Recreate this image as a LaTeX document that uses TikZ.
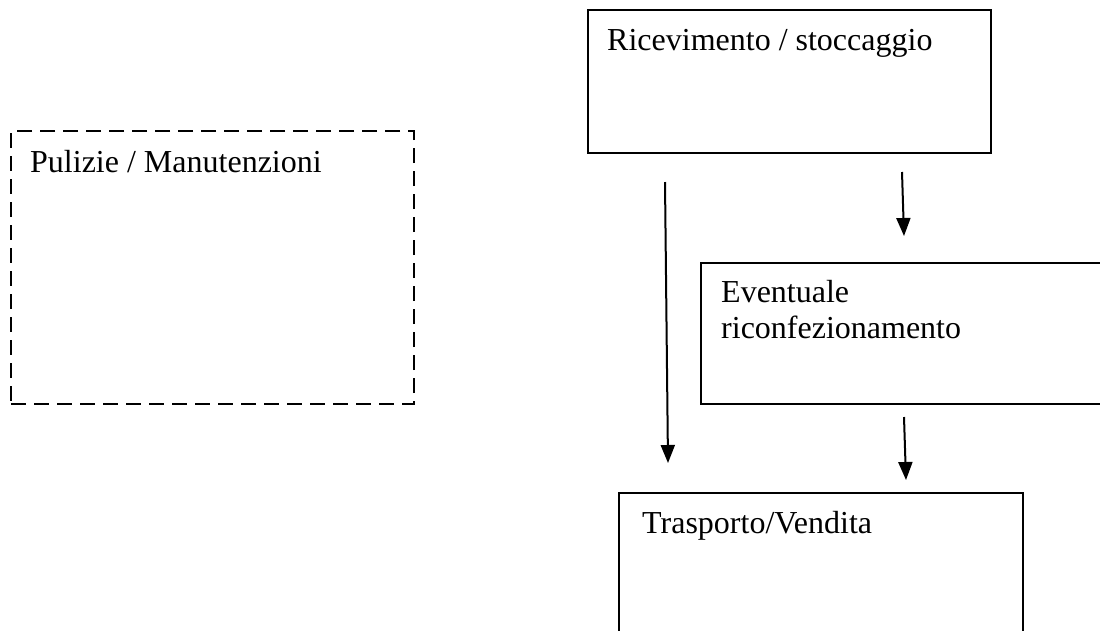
\documentclass[tikz,border=0pt]{standalone}
\usepackage{fontspec}
\setmainfont{Liberation Serif}
\usetikzlibrary{arrows.meta}
\begin{document}
\begin{tikzpicture}[x=1pt,y=-1pt,
  box/.style={draw=black,line width=2pt,rectangle,anchor=north west,inner sep=0pt},
  dashbox/.style={box,dash pattern=on 15pt off 8pt},
  lbl/.style={anchor=base west,inner sep=0pt,font=\fontsize{32}{36}\selectfont,align=left},
  arr/.style={line width=2pt,-{Triangle[length=18pt,width=14pt]}}]
\useasboundingbox (0,0) rectangle (1100,630);
\node[box,minimum width=403pt,minimum height=143pt] (R) at (587,9) {};
\node[box,minimum width=410pt,minimum height=141pt] (E) at (700,262) {};
\node[box,minimum width=404pt,minimum height=160pt] (T) at (618,492) {};
\node[dashbox,minimum width=403pt,minimum height=273pt] (P) at (10,130) {};
\node[lbl] (Rt) at (607,50) {Ricevimento / stoccaggio};
\node[lbl] (Et) at (721,338) {Eventuale\\riconfezionamento};
\node[lbl] (Tt) at (642,533) {Trasporto/Vendita};
\node[lbl] (Pt) at (30,172) {Pulizie / Manutenzioni};
\coordinate (a1s) at (665,182);
\coordinate (a1e) at (668,463);
\coordinate (a2s) at (902,172);
\coordinate (a2e) at (904,236);
\coordinate (a3s) at (904,417);
\coordinate (a3e) at (906,480);
\draw[arr] (a1s) -- (a1e);
\draw[arr] (a2s) -- (a2e);
\draw[arr] (a3s) -- (a3e);
\end{tikzpicture}
\end{document}
